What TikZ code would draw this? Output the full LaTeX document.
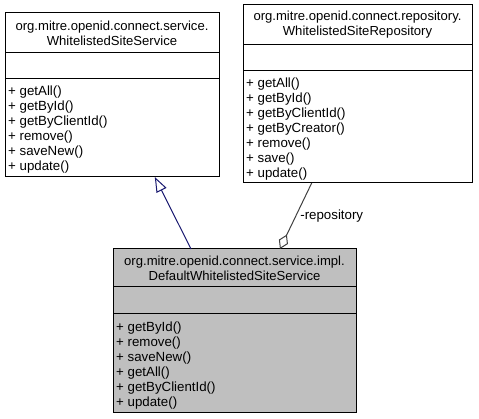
\documentclass[tikz,border=0pt]{standalone}
\usepackage{fontspec}
\setmainfont{Liberation Sans}
\usetikzlibrary{arrows.meta,calc}
\begin{document}
\begin{tikzpicture}[x=1pt,y=-1pt,
  box/.style={draw=black, line width=1pt, fill=white, anchor=north west, inner sep=0pt, outer sep=0pt},
  sep/.style={draw=black, line width=1pt},
  txt/.style={font=\fontsize{13.1}{15}\selectfont, inner sep=0pt, align=center},
  meth/.style={font=\fontsize{13.3}{15}\selectfont, inner sep=0pt, align=left, anchor=north west},
  gen/.style={draw=midblue, line width=1pt, -{Triangle[open, length=15pt, width=11pt, fill=white]}},
  agg/.style={draw=agggray, line width=1pt, {Diamond[open, length=16pt, width=10pt, fill=white]}-},
]
\definecolor{midblue}{HTML}{191970}
\definecolor{agggray}{HTML}{404040}
\definecolor{implfill}{HTML}{BFBFBF}
\useasboundingbox (0,0) rectangle (479,419);

% left class
\node[box, minimum width=214pt, minimum height=164pt] (svc) at (5,13) {};
\draw[sep] ($(svc.north west)+(0,40)$) -- ($(svc.north east)+(0,40)$);
\draw[sep] ($(svc.north west)+(0,66)$) -- ($(svc.north east)+(0,66)$);
\node[txt] (svct) at (112,33) {org.mitre.openid.connect.service.\\WhitelistedSiteService};
\node[meth] (svcm) at (8,85.8) {+ getAll()\\+ getById()\\+ getByClientId()\\+ remove()\\+ saveNew()\\+ update()};

% right class
\node[box, minimum width=229pt, minimum height=178pt] (repo) at (243,5) {};
\draw[sep] ($(repo.north west)+(0,40)$) -- ($(repo.north east)+(0,40)$);
\draw[sep] ($(repo.north west)+(0,66)$) -- ($(repo.north east)+(0,66)$);
\node[txt] (repot) at (357.5,25) {org.mitre.openid.connect.repository.\\WhitelistedSiteRepository};
\node[meth] (repom) at (246,77.5) {+ getAll()\\+ getById()\\+ getByClientId()\\+ getByCreator()\\+ remove()\\+ save()\\+ update()};

% implementation class
\node[box, fill=implfill, minimum width=243pt, minimum height=163pt] (impl) at (113,249) {};
\draw[sep] ($(impl.north west)+(0,38)$) -- ($(impl.north east)+(0,38)$);
\draw[sep] ($(impl.north west)+(0,65)$) -- ($(impl.north east)+(0,65)$);
\node[txt] (implt) at (234.5,268) {org.mitre.openid.connect.service.impl.\\DefaultWhitelistedSiteService};
\node[meth] (implm) at (116,321.8) {+ getById()\\+ remove()\\+ saveNew()\\+ getAll()\\+ getByClientId()\\+ update()};

% connectors
\draw[gen] ($(impl.north west)!0.321!(impl.north east)$) -- ($(svc.south west)!0.70!(svc.south east)$);
\draw[agg] ($(impl.north west)!0.687!(impl.north east)$) -- ($(repo.south west)!0.30!(repo.south east)$)
  node[pos=0.5, right=4pt, font=\fontsize{13.3}{15}\selectfont, inner sep=0pt, text=black] (rl) {-repository};
\end{tikzpicture}
\end{document}
